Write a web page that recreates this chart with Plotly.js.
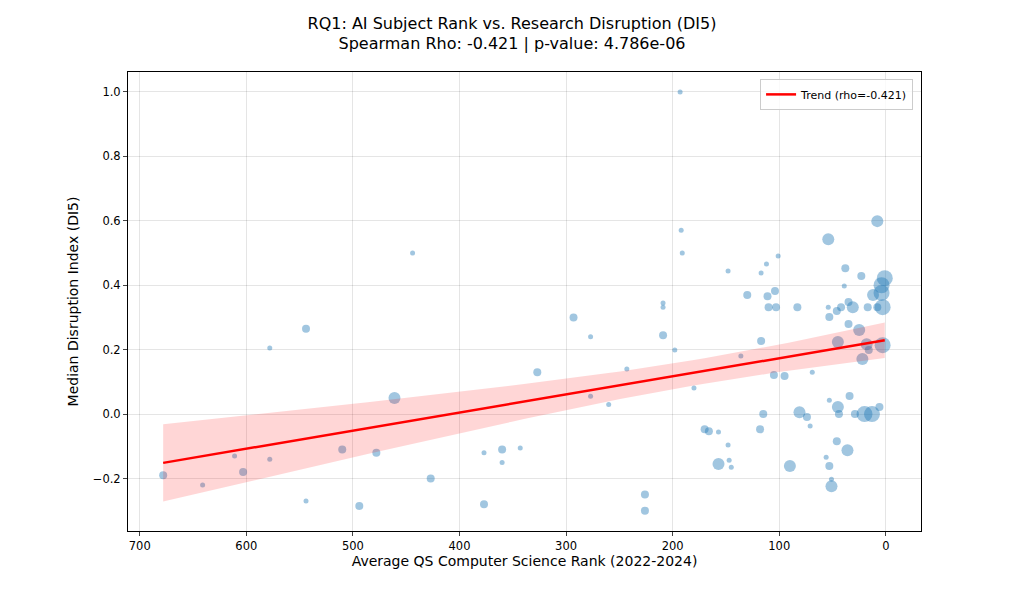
<!DOCTYPE html>
<html>
<head>
<meta charset="utf-8">
<script src="https://cdn.plot.ly/plotly-3.0.1.min.js"></script>
<style>html,body{margin:0;padding:0;background:#fff}#chart{width:1024px;height:597px}</style>
</head>
<body>
<div id="chart"></div>
<script>
// Average QS CS rank, median DI5, marker size (s/m/l/xl -> 1..4)
const rank = [678,641,611,603,578,578,544,544,510,494,478,461,444,427,377,377,360,360,343,327,293,277,277,260,243,226,226,
  209,209,209,198,193,192,191,180,170,166,157,157,148,148,147,145,136,130,118,117,117,115,112,111,110,105,104,103,101,95,90,83,81,74,71,69,
  56,54,54,53,53,53,51,51,46,46,45,45,44,42,39,38,36,35,35,34,31,29,25,23,22,20,18,17,16,13,12,8,8,6,4,4,3,3,1];
const di5 = [-0.19,-0.22,-0.13,-0.18,-0.14,0.205,0.265,-0.27,-0.11,-0.285,-0.12,0.05,0.50,-0.20,-0.12,-0.28,-0.11,-0.15,-0.105,0.13,0.30,0.24,0.055,0.03,0.14,-0.25,-0.30,
  0.345,0.332,0.245,0.199,1.0,0.571,0.50,0.081,-0.047,-0.053,-0.056,-0.155,0.444,-0.096,-0.143,-0.165,0.18,0.37,-0.047,0.438,0.227,0,0.466,0.366,0.332,0.121,0.382,0.332,0.491,0.118,-0.161,0.332,0.006,-0.009,-0.037,0.13,
  -0.134,0.543,0.332,0.043,0.301,-0.161,-0.202,-0.224,0.32,-0.084,0.022,0.224,0,0.332,0.398,0.453,-0.112,0.348,0.28,0.056,0.332,0,0.261,0.429,0.171,0,0.217,0.332,0.199,0,0.37,0.599,0.332,0.022,0.40,0.376,0.332,0.214,0.422];
const sizeCls = [2,1,1,2,1,1,2,1,2,2,2,3,1,2,1,2,2,1,1,2,2,1,1,1,1,2,2,
  1,1,2,1,1,1,1,1,2,2,1,3,1,1,1,1,1,2,2,1,2,2,1,2,2,2,2,2,1,2,3,2,3,2,1,1,
  1,3,1,1,2,2,1,3,2,2,3,3,2,2,1,2,3,2,2,2,3,2,3,2,3,4,3,2,2,4,3,3,2,2,4,4,4,4,4];
const sizePx = [0, 5, 8, 12, 16];

// OLS fit with confidence band
const n = rank.length;
const mx = rank.reduce((a, b) => a + b, 0) / n;
const my = di5.reduce((a, b) => a + b, 0) / n;
let sxx = 0, sxy = 0;
for (let i = 0; i < n; i++) { sxx += (rank[i] - mx) ** 2; sxy += (rank[i] - mx) * (di5[i] - my); }
const slope = sxy / sxx, icpt = my - slope * mx;
let sse = 0;
for (let i = 0; i < n; i++) sse += (di5[i] - icpt - slope * rank[i]) ** 2;
const se = Math.sqrt(sse / (n - 2));
const xmin = Math.min(...rank), xmax = Math.max(...rank);
const fx = [], fy = [], lo = [], hi = [];
for (let k = 0; k <= 60; k++) {
  const x = xmin + (xmax - xmin) * k / 60;
  const y = icpt + slope * x;
  const h = 1.7 * se * Math.sqrt(1 / n + (x - mx) ** 2 / sxx);
  fx.push(x); fy.push(y); lo.push(y - h); hi.push(y + h);
}

const traces = [
  { type: 'scatter', mode: 'markers', x: rank, y: di5, showlegend: false, hoverinfo: 'x+y',
    marker: { size: sizeCls.map(c => sizePx[c]), color: 'rgba(31,119,180,0.6)', line: { width: 0 } } },
  { type: 'scatter', mode: 'lines', x: fx, y: lo, line: { width: 0 }, showlegend: false, hoverinfo: 'skip' },
  { type: 'scatter', mode: 'lines', x: fx, y: hi, line: { width: 0 }, fill: 'tonexty',
    fillcolor: 'rgba(255,0,0,0.16)', showlegend: false, hoverinfo: 'skip' },
  { type: 'scatter', mode: 'lines', x: fx, y: fy, name: 'Trend (rho=-0.421)', line: { color: 'red', width: 2.5 } }
];

const ax = {
  showline: true, linecolor: '#000', linewidth: 1, mirror: true, ticks: 'outside', ticklen: 4,
  gridcolor: 'rgba(0,0,0,0.1)', zeroline: false, tickfont: { size: 11.5, color: '#000' }
};
const layout = {
  width: 1024, height: 597,
  margin: { l: 128, r: 103, t: 72, b: 66 },
  paper_bgcolor: '#fff', plot_bgcolor: '#fff',
  font: { family: 'DejaVu Sans, sans-serif', color: '#000' },
  title: { text: 'RQ1: AI Subject Rank vs. Research Disruption (DI5)<br>Spearman Rho: -0.421 | p-value: 4.786e-06',
    x: 0.5, xanchor: 'center', y: 0.952, yanchor: 'top', font: { size: 16 } },
  xaxis: { ...ax, range: [711, -33], tickvals: [700, 600, 500, 400, 300, 200, 100, 0],
    title: { text: 'Average QS Computer Science Rank (2022-2024)', font: { size: 14 }, standoff: 4 } },
  yaxis: { ...ax, range: [-0.363, 1.062], tickvals: [-0.2, 0, 0.2, 0.4, 0.6, 0.8, 1.0],
    ticktext: ['−0.2', '0.0', '0.2', '0.4', '0.6', '0.8', '1.0'],
    title: { text: 'Median Disruption Index (DI5)', font: { size: 14 }, standoff: 10 } },
  legend: { x: 0.99, y: 0.985, xanchor: 'right', yanchor: 'top', bgcolor: 'rgba(255,255,255,0.8)',
    bordercolor: '#ccc', borderwidth: 1, font: { size: 11 } }
};
Plotly.newPlot('chart', traces, layout, { displayModeBar: false });
</script>
</body>
</html>
